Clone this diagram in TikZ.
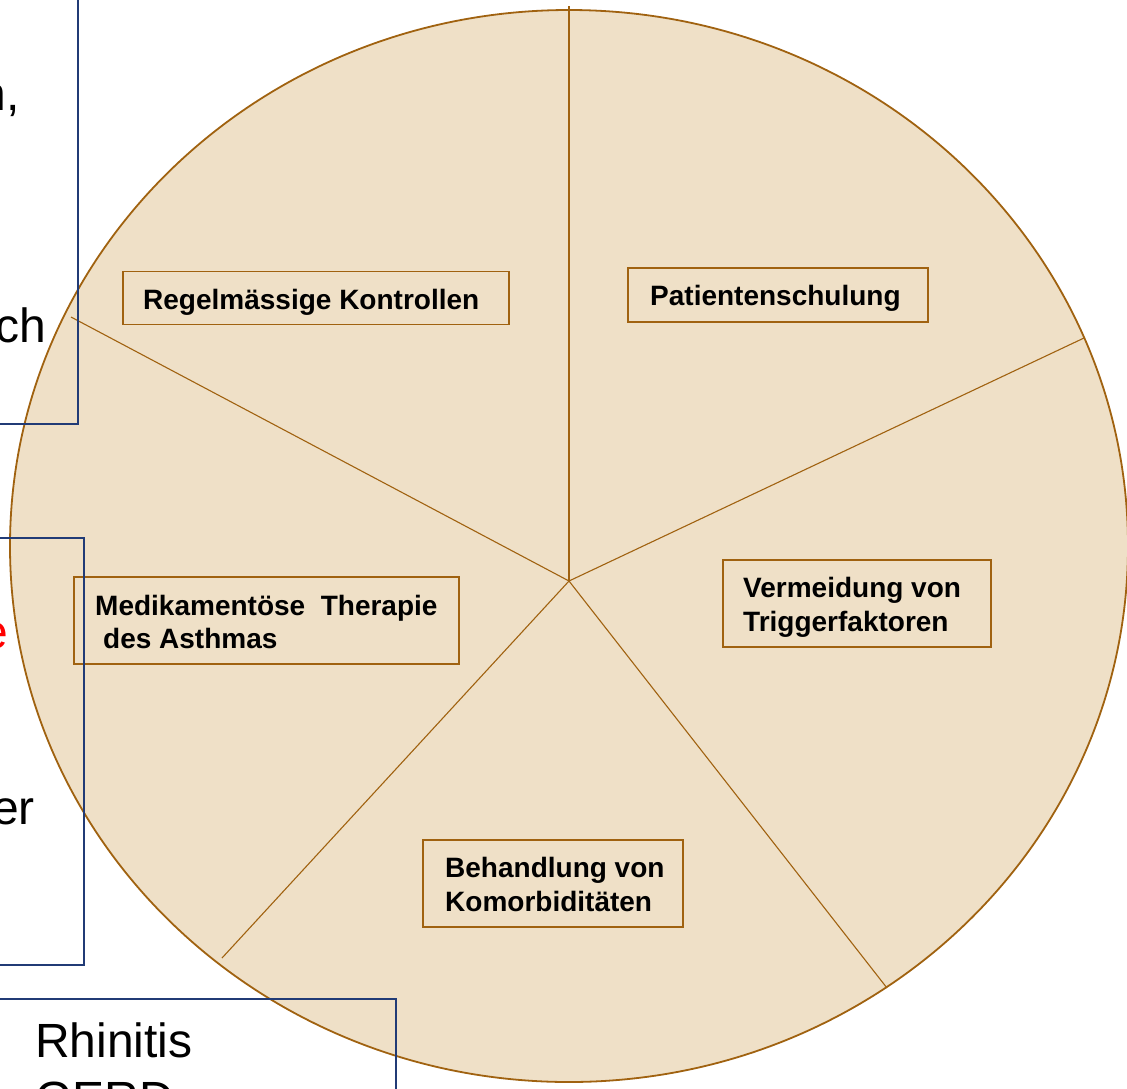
\documentclass[tikz,border=0pt]{standalone}
\usepackage{fontspec}
\setmainfont{Liberation Sans}
\definecolor{beige}{RGB}{239,224,199}
\definecolor{brn}{RGB}{160,98,16}
\definecolor{navy}{RGB}{33,59,118}
\definecolor{redtxt}{RGB}{255,0,0}
\begin{document}
\begin{tikzpicture}[x=1pt,y=-1pt,
  lblbox/.style={draw=brn,line width=1.8pt,fill=beige,inner sep=0pt},
  lbltxt/.style={anchor=base west,inner sep=0pt,font=\bfseries\fontsize{28}{34}\selectfont},
  bigtxt/.style={anchor=base west,inner sep=0pt,font=\fontsize{48}{58}\selectfont},
  bigtxtr/.style={anchor=base east,inner sep=0pt,font=\fontsize{48}{58}\selectfont},
  spoke/.style={draw=brn,line width=1.1pt},
  bluebox/.style={draw=navy,line width=1.8pt}]
\useasboundingbox (0,0) rectangle (1127,1088);
\clip (0,0) rectangle (1127,1088);
% wheel
\fill[beige] (569,546) ellipse [x radius=559, y radius=536];
\draw[brn,line width=1.8pt] (569,546) ellipse [x radius=559, y radius=536];
\coordinate (hub) at (569,581);
\coordinate (s1) at (569,6);
\coordinate (s2) at (1084,338);
\coordinate (s3) at (887,988);
\coordinate (s4) at (222,958);
\coordinate (s5) at (71,317);
\foreach \s in {s1,s2,s3,s4,s5} \draw[spoke] (hub) -- (\s);
% label boxes
\node[lblbox,minimum width=386,minimum height=53] (b1) at (316,298) {};
\node[lbltxt] (t1) at (143,309) {Regelmässige Kontrollen};
\node[lblbox,minimum width=300,minimum height=54] (b2) at (778,295) {};
\node[lbltxt] (t2) at (650,305) {Patientenschulung};
\node[lblbox,minimum width=268,minimum height=87] (b3) at (857,603.5) {};
\node[lbltxt] (t3a) at (743,597) {Vermeidung von};
\node[lbltxt] (t3b) at (743,631) {Triggerfaktoren};
\node[lblbox,minimum width=260,minimum height=87] (b4) at (553,883.5) {};
\node[lbltxt] (t4a) at (445,877) {Behandlung von};
\node[lbltxt] (t4b) at (445,911) {Komorbiditäten};
\node[lblbox,minimum width=385,minimum height=87] (b5) at (266.5,620.5) {};
\node[lbltxt] (t5a) at (95,615) {Medikamentöse\ \ Therapie};
\node[lbltxt] (t5b) at (103,648) {des Asthmas};
% left text boxes
\node[bigtxtr] (x1) at (20,110) {n,};
\node[bigtxtr] (x2) at (46,342) {ch};
\node[bigtxtr,text=redtxt] (x3) at (8,648) {e};
\node[bigtxtr] (x4) at (35,824) {er};
\node[bigtxt] (x5) at (35,1057) {Rhinitis};
\node[bigtxt] (x6) at (35,1115) {GERD};
\draw[bluebox] (-10,-10) rectangle (78,424);
\draw[bluebox] (-10,538) rectangle (84,965);
\draw[bluebox] (-10,999) rectangle (396,1100);
\end{tikzpicture}
\end{document}
